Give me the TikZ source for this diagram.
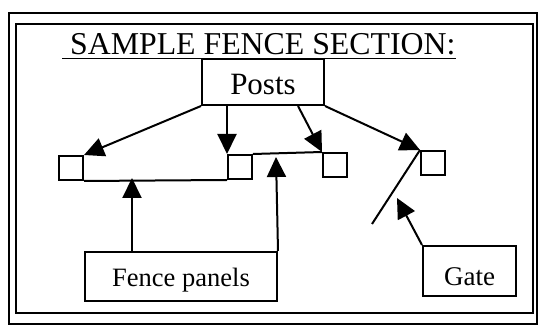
\documentclass[tikz,border=0pt]{standalone}
\usepackage{fontspec}
\setmainfont{Liberation Serif}
\usetikzlibrary{arrows.meta,calc}
\begin{document}
\begin{tikzpicture}[x=1pt,y=-1pt,
  frame/.style={line width=1.8pt},
  box/.style={draw, line width=2pt, inner sep=0pt, anchor=north west, text depth=0pt},
  post/.style={draw, line width=2pt, minimum width=24pt, minimum height=24pt, inner sep=0pt, anchor=north west},
  conn/.style={line width=2pt, -{Triangle[length=20pt,width=19pt]}},
  plain/.style={line width=2pt}]
\useasboundingbox (0,0) rectangle (540,328);
% frames
\draw[frame] (9,13) rectangle (537,324);
\draw[frame] (16,24) rectangle (533,313);
% title
\node[anchor=base west, inner sep=0pt, font=\fontsize{31.8}{31.8}\selectfont] (title) at (70,55) {SAMPLE FENCE SECTION:};
\draw[line width=1.8pt] ($(title.base west)+(-8,3.5)$) -- ($(title.base east)+(0,3.5)$);
% boxes
\node[box, minimum width=122pt, minimum height=46pt, text height=25pt, font=\fontsize{31}{31}\selectfont] (posts) at (201,58) {Posts};
\node[box, minimum width=192pt, minimum height=49pt, text height=20pt, font=\fontsize{26.5}{26.5}\selectfont] (fence) at (84,251) {Fence panels\hspace{16pt}};
\node[box, minimum width=93pt, minimum height=50pt, text height=28pt, font=\fontsize{27}{27}\selectfont] (gate) at (422,245) {Gate};
% posts
\node[post] (sq1) at (58,155) {};
\node[post] (sq2) at (227,154) {};
\node[post] (sq3) at (322,152) {};
\node[post] (sq4) at (420,150) {};
% panels and gate
\draw[plain] (sq1.south east) -- (sq2.south west);
\draw[plain] (sq2.north east) -- (sq3.north west);
\coordinate (gateend) at (372,224);
\draw[plain] (sq4.north west) -- (gateend);
% arrows from posts
\draw[conn] (posts.south west) -- (sq1.north east);
\draw[conn] (sq2.north west |- posts.south) -- (sq2.north west);
\draw[conn] ($(posts.south west)+(97,0)$) -- (sq3.north west);
\draw[conn] (posts.south east) -- (sq4.north west);
% arrows from fence panels
\coordinate (p1) at (132,178);
\coordinate (p2) at (276,157);
\draw[conn] (fence.north -| p1) -- (p1);
\draw[conn] (fence.north east) -- (p2);
% arrow from gate
\coordinate (g1) at (397,198);
\draw[conn] (gate.north west) -- (g1);
\end{tikzpicture}
\end{document}
